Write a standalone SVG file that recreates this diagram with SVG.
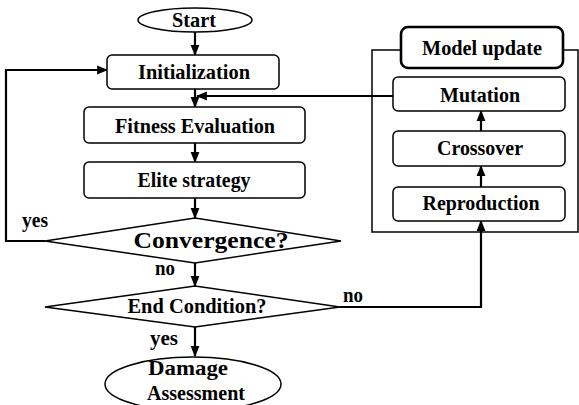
<svg xmlns="http://www.w3.org/2000/svg" width="579" height="405" viewBox="0 0 579 405">
<style>
.s{fill:#fff;stroke:#000;stroke-width:1.5}
.t{font-family:"Liberation Serif","Times New Roman",serif;font-weight:bold;font-size:21px;fill:#000;text-anchor:middle}
.c{fill:none;stroke:#000;stroke-width:2.2}
.f{fill:none;stroke:#000;stroke-width:1.5}
</style>
<defs>
<marker id="ah" markerUnits="userSpaceOnUse" markerWidth="11" markerHeight="11" viewBox="0 0 10 10" refX="9" refY="5" orient="auto">
<path d="M0,1 L10,5 L0,9 Z" fill="#000"/>
</marker>
</defs>
<rect width="579" height="405" fill="#fff"/>
<g id="frame">
<path class="f" d="M401,50 H372 V232 H578 V50 H563"/>
</g>
<g id="connectors">
<path class="c" d="M195,32 V55" marker-end="url(#ah)"/>
<path class="c" d="M195,89 V107" marker-end="url(#ah)"/>
<path class="c" d="M393,96 H197" marker-end="url(#ah)"/>
<path class="c" d="M195,143 V162" marker-end="url(#ah)"/>
<path class="c" d="M195,198 V218" marker-end="url(#ah)"/>
<path class="c" d="M45,241 H6 V70 H107" marker-end="url(#ah)"/>
<path class="c" d="M195,263 V286" marker-end="url(#ah)"/>
<path class="c" d="M340,307 H481 V221" marker-end="url(#ah)"/>
<path class="c" d="M481,187 V166" marker-end="url(#ah)"/>
<path class="c" d="M481,131 V111" marker-end="url(#ah)"/>
<path class="c" d="M195,327 V356" marker-end="url(#ah)"/>
</g>
<g id="start"><ellipse class="s" cx="195" cy="20" rx="57" ry="12"/><text class="t" x="194" y="27" textLength="44" lengthAdjust="spacingAndGlyphs">Start</text></g>
<g id="init"><rect class="s" x="107" y="55" width="172" height="34" rx="5"/><text class="t" x="194" y="79" textLength="112" lengthAdjust="spacingAndGlyphs">Initialization</text></g>
<g id="fitness"><rect class="s" x="84" y="107" width="221" height="36" rx="5"/><text class="t" x="195" y="133" textLength="160" lengthAdjust="spacingAndGlyphs">Fitness Evaluation</text></g>
<g id="elite"><rect class="s" x="84" y="162" width="221" height="36" rx="5"/><text class="t" x="194" y="187" textLength="113" lengthAdjust="spacingAndGlyphs">Elite strategy</text></g>
<g id="convergence"><polygon class="s" points="45,241 195,218 341,241 195,263"/><text class="t" x="211" y="248" style="font-size:24px" textLength="155" lengthAdjust="spacingAndGlyphs">Convergence?</text></g>
<g id="endcond"><polygon class="s" points="45,307 195,286 340,307 195,327"/><text class="t" x="197" y="313" textLength="139" lengthAdjust="spacingAndGlyphs">End Condition?</text></g>
<g id="damage"><ellipse class="s" cx="193" cy="384" rx="88" ry="27"/><text class="t" x="188" y="375" textLength="80" lengthAdjust="spacingAndGlyphs">Damage</text><text class="t" x="196" y="400" textLength="98" lengthAdjust="spacingAndGlyphs">Assessment</text></g>
<g id="modelupdate"><rect x="401" y="27" width="162" height="41" rx="7" fill="#fff" stroke="#000" stroke-width="2.6"/><text class="t" x="482" y="55" textLength="120" lengthAdjust="spacingAndGlyphs">Model update</text></g>
<g id="mutation"><rect class="s" x="393" y="77" width="172" height="34" rx="5"/><text class="t" x="480" y="102" textLength="80" lengthAdjust="spacingAndGlyphs">Mutation</text></g>
<g id="crossover"><rect class="s" x="393" y="131" width="172" height="35" rx="5"/><text class="t" x="480" y="155" textLength="86" lengthAdjust="spacingAndGlyphs">Crossover</text></g>
<g id="reproduction"><rect class="s" x="393" y="187" width="172" height="34" rx="5"/><text class="t" x="481" y="210" textLength="117" lengthAdjust="spacingAndGlyphs">Reproduction</text></g>
<g id="labels">
<text class="t" x="35" y="227" textLength="26" lengthAdjust="spacingAndGlyphs">yes</text>
<text class="t" x="165" y="275" textLength="20" lengthAdjust="spacingAndGlyphs">no</text>
<text class="t" x="164" y="345" textLength="28" lengthAdjust="spacingAndGlyphs">yes</text>
<text class="t" x="353" y="302" textLength="20" lengthAdjust="spacingAndGlyphs">no</text>
</g>
</svg>
